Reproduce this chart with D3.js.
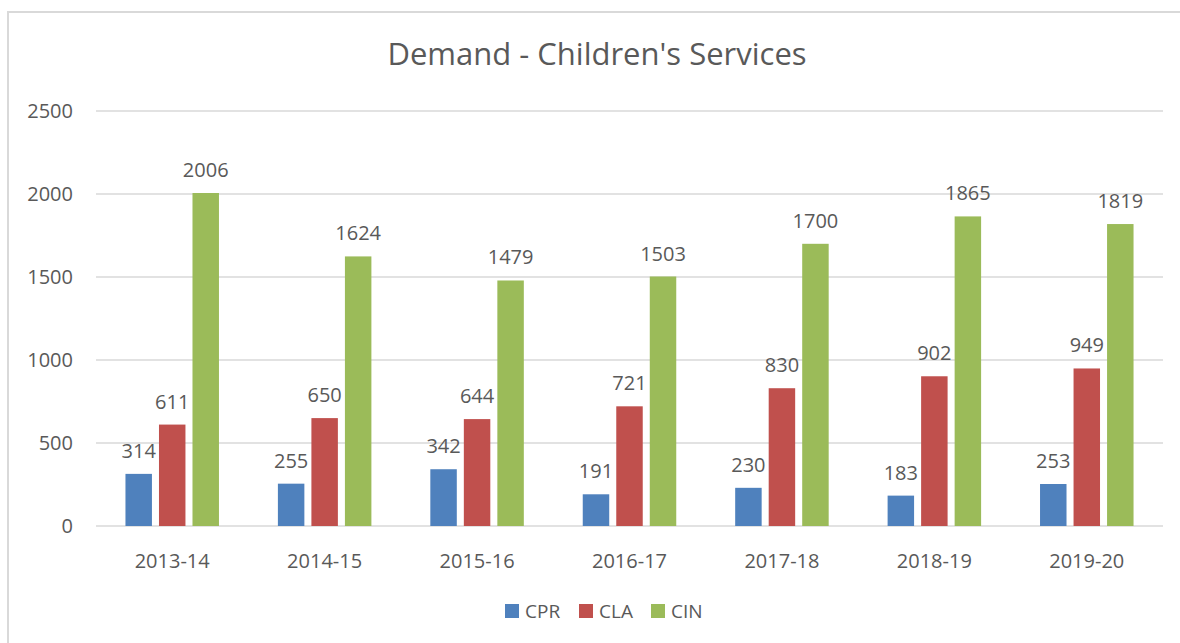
<!DOCTYPE html>
<html>
<head>
<meta charset="utf-8">
<script src="https://cdn.jsdelivr.net/npm/d3@7"></script>
<style>
  body { margin: 0; background: #fff; }
  text { font-family: "Open Sans", sans-serif; fill: #595959; }
</style>
</head>
<body>
<div id="chart"></div>
<script>
// Chart data
const years = ["2013-14", "2014-15", "2015-16", "2016-17", "2017-18", "2018-19", "2019-20"];
const seriesNames = ["CPR", "CLA", "CIN"];
const cpr = [314, 255, 342, 191, 230, 183, 253];
const cla = [611, 650, 644, 721, 830, 902, 949];
const cin = [2006, 1624, 1479, 1503, 1700, 1865, 1819];
const yTicks = [0, 500, 1000, 1500, 2000, 2500];
const colors = ["#4f81bd", "#c0504d", "#9bbb59"];

const width = 1180;
const height = 643;
const margin = {top: 111, right: 17, bottom: 117, left: 96};

const svg = d3.select("#chart")
    .append("svg")
        .attr("width", width)
        .attr("height", height);

// outer frame (only top and left edges are visible)
svg.append("line")
    .attr("x1", 8).attr("x2", 8).attr("y1", 11).attr("y2", height)
    .attr("stroke", "#d9d9d9").attr("stroke-width", 2);
svg.append("line")
    .attr("x1", 8).attr("x2", width).attr("y1", 12).attr("y2", 12)
    .attr("stroke", "#d9d9d9").attr("stroke-width", 2);

const x0 = d3.scaleBand()
    .domain(years)
    .range([margin.left, width - margin.right]);

const x1 = d3.scaleBand()
    .domain(seriesNames)
    .range([0, 93.5])
    .paddingInner(0.21);

const y = d3.scaleLinear()
    .domain([0, 2500])
    .range([height - margin.bottom, margin.top]);

// gridlines
svg.append("g")
    .selectAll("line")
    .data(yTicks)
    .join("line")
        .attr("x1", margin.left)
        .attr("x2", width - margin.right)
        .attr("y1", d => y(d))
        .attr("y2", d => y(d))
        .attr("stroke", "#d9d9d9")
        .attr("stroke-width", 1.3);

// y tick labels
svg.append("g")
    .selectAll("text")
    .data(yTicks)
    .join("text")
        .attr("x", 73)
        .attr("y", d => y(d))
        .attr("dy", "0.35em")
        .attr("text-anchor", "end")
        .style("font-size", "20px")
        .text(d => d);

// x tick labels
svg.append("g")
    .selectAll("text")
    .data(years)
    .join("text")
        .attr("x", d => x0(d) + x0.bandwidth() / 2)
        .attr("y", y(0) + 42)
        .attr("text-anchor", "middle")
        .style("font-size", "20px")
        .text(d => d);

const values = [cpr, cla, cin];
const rows = [];
seriesNames.forEach((s, si) => {
    years.forEach((yr, i) => rows.push({series: s, si: si, year: yr, value: values[si][i]}));
});

const groupOffset = (x0.bandwidth() - 93.5) / 2;

svg.append("g")
    .selectAll("rect")
    .data(rows)
    .join("rect")
        .attr("x", d => x0(d.year) + groupOffset + x1(d.series))
        .attr("y", d => y(d.value))
        .attr("width", x1.bandwidth())
        .attr("height", d => y(0) - y(d.value))
        .attr("fill", d => colors[d.si]);

// data labels
svg.append("g")
    .selectAll("text")
    .data(rows)
    .join("text")
        .attr("x", d => x0(d.year) + groupOffset + x1(d.series) + x1.bandwidth() / 2)
        .attr("y", d => y(d.value) - 16)
        .attr("text-anchor", "middle")
        .style("font-size", "20px")
        .text(d => d.value);

// title
svg.append("text")
    .attr("x", 597)
    .attr("y", 65)
    .attr("text-anchor", "middle")
    .style("font-size", "31px")
    .text("Demand - Children's Services");

// legend
const legendX = [505, 579, 651];
const legend = svg.append("g")
    .selectAll("g")
    .data(seriesNames)
    .join("g")
        .attr("transform", (d, i) => `translate(${legendX[i]},604)`);
legend.append("rect")
    .attr("width", 14).attr("height", 14)
    .attr("fill", (d, i) => colors[i]);
legend.append("text")
    .attr("x", 20)
    .attr("y", 14)
    .style("font-size", "19px")
    .text(d => d);
</script>
</body>
</html>
